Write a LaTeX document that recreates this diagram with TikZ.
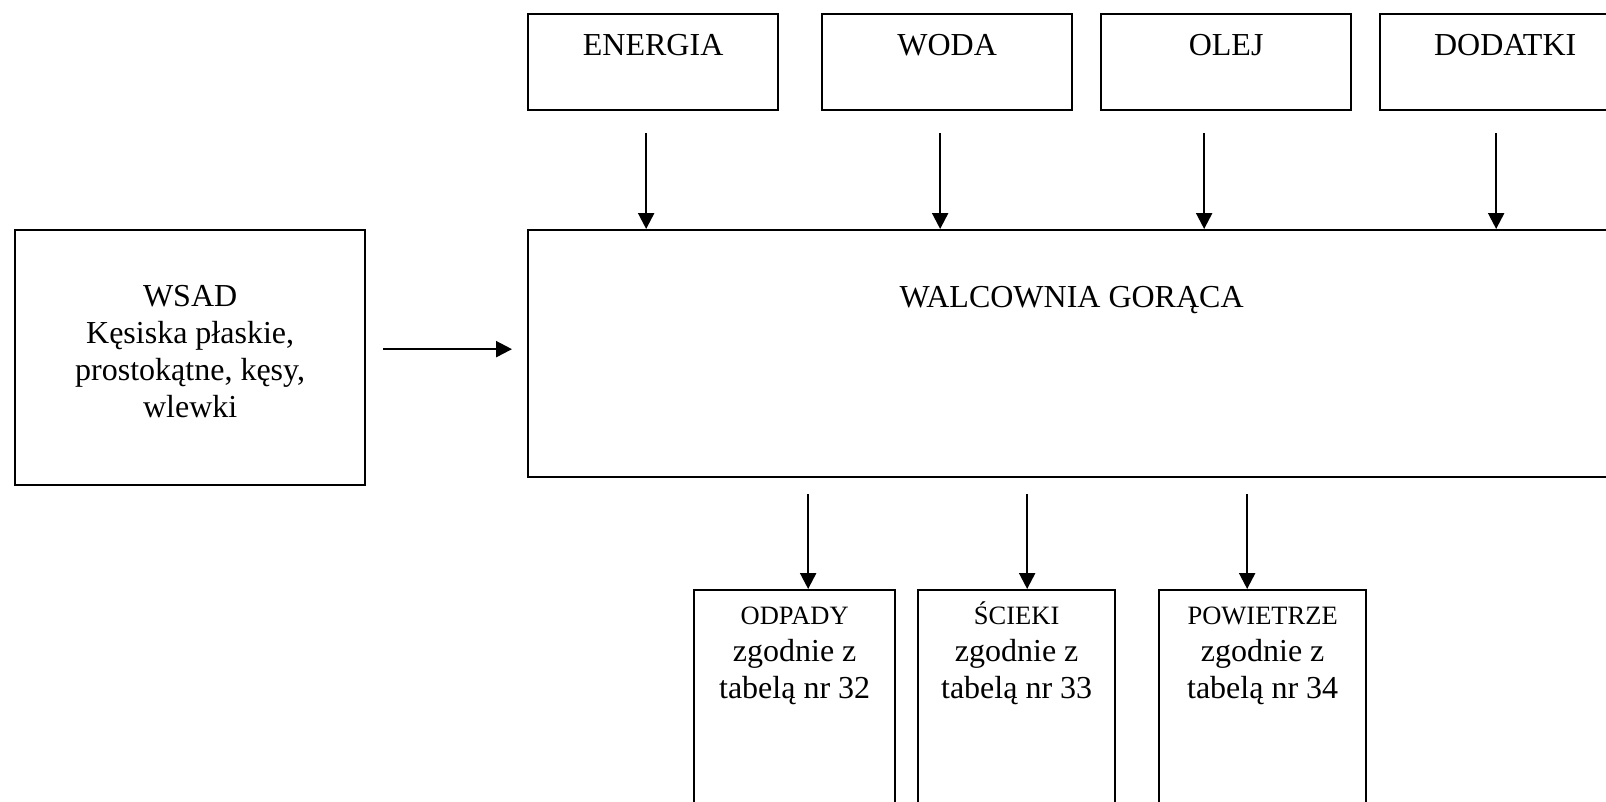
\documentclass[tikz,border=0pt]{standalone}
\usepackage{fontspec}
\setmainfont{Liberation Serif}
\usetikzlibrary{arrows.meta,calc}
\begin{document}
\begin{tikzpicture}[x=1pt,y=-1pt,
  box/.style={draw, line width=2.3pt, rectangle, inner sep=0pt, anchor=north west},
  txt/.style={anchor=base, align=center, inner sep=0pt, font=\fontsize{32}{37}\selectfont},
  flow/.style={line width=2.3pt, -{Triangle[length=16pt,width=16pt]}}]
\useasboundingbox (0,0) rectangle (1606,801);

% inputs along the top
\node[box, minimum width=250, minimum height=96] (energia) at (527,13) {};
\node[box, minimum width=250, minimum height=96] (woda)    at (821,13) {};
\node[box, minimum width=250, minimum height=96] (olej)    at (1100,13) {};
\node[box, minimum width=250, minimum height=96] (dodatki) at (1379,13) {};
\node[txt] (energia-t) at ($(energia.north)+(0,42)$) {ENERGIA};
\node[txt] (woda-t)    at ($(woda.north)+(0,42)$) {WODA};
\node[txt] (olej-t)    at ($(olej.north)+(0,42)$) {OLEJ};
\node[txt] (dodatki-t) at ($(dodatki.north)+(0,42)$) {DODATKI};

% the mill
\node[box, minimum width=1087, minimum height=247] (main) at (527,229) {};
\node[txt] (main-t) at ($(main.north)+(0,78)$) {WALCOWNIA GORĄCA};

% charge (base anchor of a multi-line node sits on its last line)
\node[box, minimum width=350, minimum height=255] (wsad) at (14,229) {};
\node[txt] (wsad-t) at ($(wsad.north)+(0,188)$)
  {WSAD\\Kęsiska płaskie,\\prostokątne, kęsy,\\wlewki};

% outputs
\node[box, minimum width=201, minimum height=240] (odpady)    at (693,589) {};
\node[box, minimum width=197, minimum height=240] (scieki)    at (917,589) {};
\node[box, minimum width=207, minimum height=240] (powietrze) at (1158,589) {};
\node[txt] (odpady-t) at ($(odpady.north)+(0,109)$)
  {{\fontsize{26.5}{35}\selectfont ODPADY}\\zgodnie z\\tabelą nr 32};
\node[txt] (scieki-t) at ($(scieki.north)+(0,109)$)
  {{\fontsize{26.5}{35}\selectfont ŚCIEKI}\\zgodnie z\\tabelą nr 33};
\node[txt] (powietrze-t) at ($(powietrze.north)+(0,109)$)
  {{\fontsize{26.5}{35}\selectfont POWIETRZE}\\zgodnie z\\tabelą nr 34};

% connectors
\draw[flow] ($(energia.south)+(-7,22)$) -- ($(energia.south |- main.north)+(-7,0)$);
\draw[flow] ($(woda.south)+(-7,22)$)    -- ($(woda.south |- main.north)+(-7,0)$);
\draw[flow] ($(olej.south)+(-22,22)$)   -- ($(olej.south |- main.north)+(-22,0)$);
\draw[flow] ($(dodatki.south)+(-9,22)$) -- ($(dodatki.south |- main.north)+(-9,0)$);

\draw[flow] ($(wsad.east)+(17,-8.5)$) -- ($(wsad.east -| main.west)+(-15,-8.5)$);

\draw[flow] ($(odpady.north |- main.south)+(13.5,16)$)    -- ($(odpady.north)+(13.5,0)$);
\draw[flow] ($(scieki.north |- main.south)+(10.5,16)$)    -- ($(scieki.north)+(10.5,0)$);
\draw[flow] ($(powietrze.north |- main.south)+(-15.5,16)$) -- ($(powietrze.north)+(-15.5,0)$);
\end{tikzpicture}
\end{document}
